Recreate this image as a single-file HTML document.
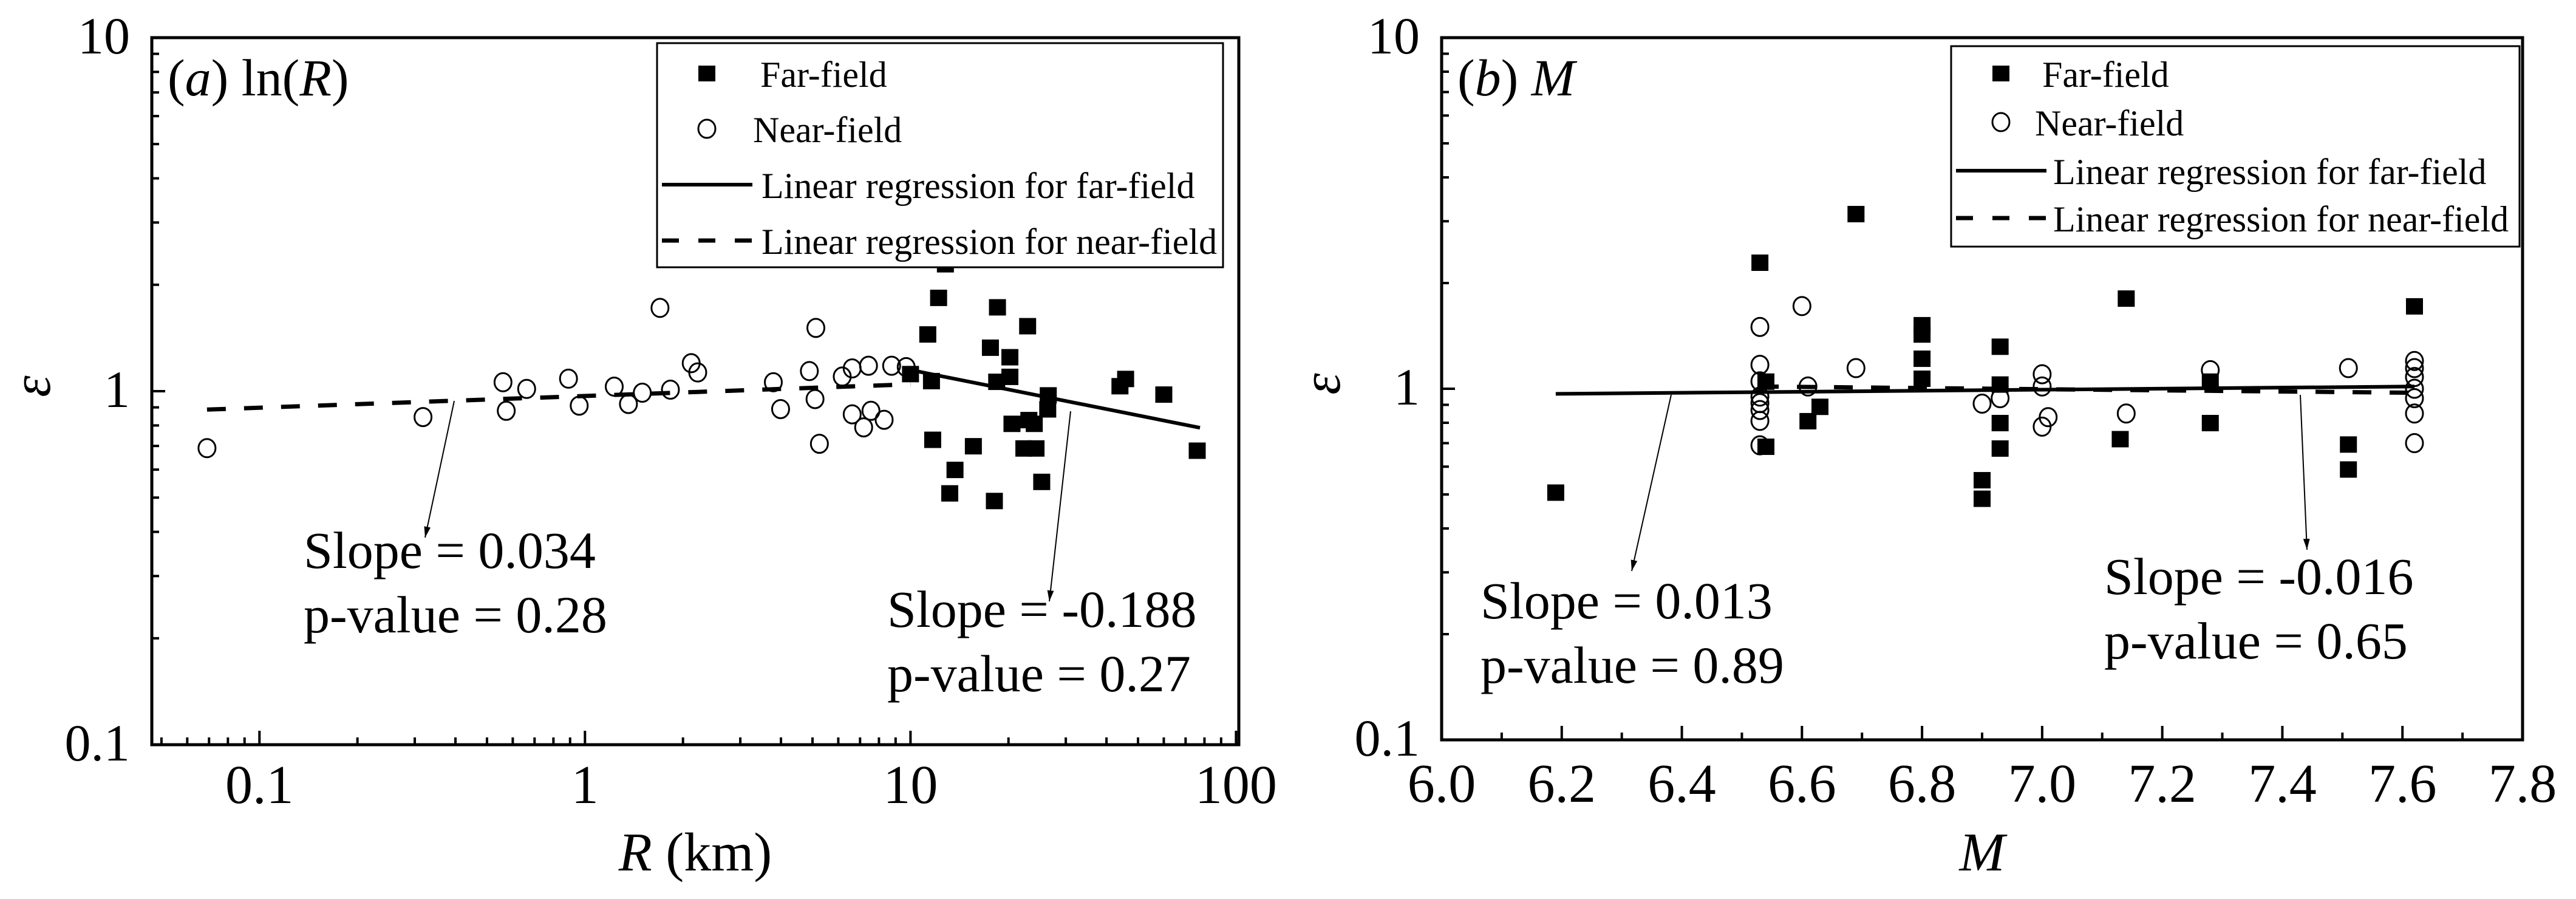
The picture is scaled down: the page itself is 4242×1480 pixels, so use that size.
<!DOCTYPE html>
<html><head><meta charset="utf-8"><style>
html,body{margin:0;padding:0;background:#fff;}
svg{display:block;}
svg text{font-family:"Liberation Serif","Times New Roman",serif;}
</style></head><body>
<svg id="chart" width="4242" height="1480" viewBox="0 0 4242 1480" xmlns="http://www.w3.org/2000/svg" font-family="Liberation Serif, Times New Roman, serif">
<defs><marker id="ah" viewBox="0 0 10 10" refX="10" refY="5" markerWidth="18" markerHeight="18" markerUnits="userSpaceOnUse" orient="auto"><path d="M0,2 L10,5 L0,8 z" fill="#000"/></marker></defs>
</svg>
<script>
// ---- Panel (a): epsilon vs R ----
const aFarR   = [10.0,11.3,11.6,12.2,12.8,11.7,13.7,13.2,15.6,17.6,18.5,18.1,18.4,20.2,20.2,20.5,22.9,22.3,23.1,24.0,24.3,25.3,26.5,26.4,44,45.8,60,76];
const aFarEps = [1.12,1.45,1.07,1.84,2.29,0.73,0.60,0.515,0.70,1.33,1.73,0.49,1.065,1.25,1.10,0.81,1.53,0.69,0.83,0.81,0.69,0.555,0.975,0.89,1.035,1.085,0.98,0.68];
const aNearR   = [0.069,0.318,0.56,0.573,0.662,0.89,0.96,1.23,1.36,1.50,1.70,1.83,2.12,2.22,3.79,3.99,4.89,5.09,5.12,5.25,6.17,6.62,6.62,7.18,7.43,7.56,8.3,8.75,9.7];
const aNearEps = [0.69,0.845,1.06,0.88,1.015,1.085,0.91,1.03,0.92,0.99,1.72,1.01,1.20,1.13,1.06,0.89,1.14,0.95,1.51,0.71,1.10,0.86,1.16,0.79,1.18,0.88,0.83,1.18,1.17];
const aFitFarX = [10, 77.5];   const aFitFarY = [1.148, 0.788];
const aFitNearX = [0.069, 10]; const aFitNearY = [0.887, 1.046];
const aXTicks = [0.1, 1, 10, 100];
const aXTickLabels = ["0.1","1","10","100"];
// ---- Panel (b): epsilon vs M ----
const bFarM   = [6.19,6.53,6.54,6.54,6.61,6.63,6.69,6.80,6.80,6.80,6.80,6.90,6.90,6.93,6.93,6.93,6.93,7.13,7.14,7.28,7.28,7.51,7.51,7.62];
const bFarEps = [0.507,2.29,1.05,0.685,0.81,0.89,3.15,1.52,1.43,1.22,1.07,0.55,0.487,1.32,1.03,0.80,0.677,0.72,1.81,1.05,0.80,0.695,0.59,1.72];
const bNearM   = [6.53,6.53,6.53,6.53,6.53,6.53,6.53,6.53,6.60,6.61,6.69,6.90,6.93,7.00,7.00,7.00,7.01,7.14,7.28,7.51,7.62,7.62,7.62,7.62,7.62,7.62,7.62];
const bNearEps = [1.50,1.17,1.05,0.95,0.91,0.87,0.81,0.69,1.72,1.015,1.145,0.907,0.94,1.10,1.015,0.78,0.83,0.85,1.13,1.145,1.20,1.145,1.08,1.00,0.94,0.85,0.70];
const bFitFarX = [6.19, 7.62];  const bFitFarY = [0.967, 1.015];
const bFitNearX = [6.53, 7.62]; const bFitNearY = [1.015, 0.974];
const bXTicks = [6.0,6.2,6.4,6.6,6.8,7.0,7.2,7.4,7.6,7.8];
const bXTickLabels = ["6.0","6.2","6.4","6.6","6.8","7.0","7.2","7.4","7.6","7.8"];
const yTicks = [0.1, 1, 10];
const yTickLabels = ["0.1","1","10"];

const FONT = '"Liberation Serif","Times New Roman",serif';
const svg = document.getElementById('chart');
const NS = 'http://www.w3.org/2000/svg';
function mk(tag, attrs, parent){ const e=document.createElementNS(NS,tag); for(const k in attrs) e.setAttribute(k,attrs[k]); if(tag==='text') e.setAttribute('font-family',FONT); (parent||svg).appendChild(e); return e; }

function panel(p){
  const g = mk('g',{});
  
  
  const L=p.L,R=p.R,T=p.T,B=p.B;
  const X = p.xs, Y = v => B - (Math.log10(v)+1)/2*(B-T);
  for(let d=-1; d<1; d++){
    for(let m=2;m<=9;m++){
      const v = m*Math.pow(10,d); const y=Y(v);
      const t = mk('line',{x1:L,x2:L+12,y1:y,y2:y,stroke:'#000','stroke-width':4},g);
      
      
    }
  }
  yTicks.forEach((v,i)=>{
    const y=Y(v);
    const t=mk('line',{x1:L,x2:L+22,y1:y,y2:y,stroke:'#000','stroke-width':4},g);
    
    
    const tx=mk('text',{x:L-36,y:y+26,'font-size':86,'text-anchor':'end'},g);
    tx.textContent=yTickLabels[i];
    
    
  });
  p.minorX.forEach(v=>{
    const x=X(v);
    const t=mk('line',{x1:x,x2:x,y1:B,y2:B-12,stroke:'#000','stroke-width':4},g);
    
    
  });
  p.xt.forEach((v,i)=>{
    const x=X(v);
    const t=mk('line',{x1:x,x2:x,y1:B,y2:B-23,stroke:'#000','stroke-width':4},g);
    
    
    const tx=mk('text',{x:x,y:B+p.xlo,'font-size':90,'text-anchor':'middle'},g);
    tx.textContent=p.xtl[i];
    
    
  });
  const lf=mk('line',{x1:X(p.ffx[0]),y1:Y(p.ffy[0]),x2:X(p.ffx[1]),y2:Y(p.ffy[1]),stroke:'#000','stroke-width':6},g);
  
  
  const ln=mk('line',{x1:X(p.nfx[0]),y1:Y(p.nfy[0]),x2:X(p.nfx[1]),y2:Y(p.nfy[1]),stroke:'#000','stroke-width':7,'stroke-dasharray':'31 30'},g);
  
  
  p.fx.forEach((v,i)=>{
    const r=mk('rect',{x:X(v)-14,y:Y(p.fy[i])-13,width:28,height:27,fill:'#000'},g);
    
    
  });
  p.nx.forEach((v,i)=>{
    const c=mk('ellipse',{cx:X(v),cy:Y(p.ny[i]),rx:14,ry:15,fill:'none',stroke:'#000','stroke-width':3},g);
    
    
  });
  const lg=mk('g',{},g);
  
  
  const lx=p.lg.x, ly=p.lg.y;
  mk('rect',{x:lx,y:ly,width:p.lg.w,height:p.lg.h,fill:'#fff',stroke:'#000','stroke-width':3},lg);
  const rows=p.lg.rows;
  const e1=mk('rect',{x:lx+68,y:ly+rows[0]-13,width:28,height:26,fill:'#000'},lg);
   
  const e2=mk('ellipse',{cx:lx+82,cy:ly+rows[1],rx:14,ry:15,fill:'none',stroke:'#000','stroke-width':3},lg);
   
  const e3=mk('line',{x1:lx+8,x2:lx+157,y1:ly+rows[2],y2:ly+rows[2],stroke:'#000','stroke-width':6},lg);
   
  const e4=mk('line',{x1:lx+8,x2:lx+157,y1:ly+rows[3],y2:ly+rows[3],stroke:'#000','stroke-width':7,'stroke-dasharray':'28 32'},lg);
   
  const texts=["Far-field","Near-field","Linear regression for far-field","Linear regression for near-field"];
  texts.forEach((s,i)=>{
    const t=mk('text',{x:lx+p.lg.tx[i],y:ly+rows[i]+22,'font-size':60},lg);
    t.textContent=s;
    
    
  });
  const f=mk('rect',{x:L,y:T,width:R-L,height:B-T,fill:'none',stroke:'#000','stroke-width':5},g);
  
  
  p.ann.forEach(a=>{
    const ar=mk('line',{x1:a.x1,y1:a.y1,x2:a.x2,y2:a.y2,stroke:'#000','stroke-width':2,'marker-end':'url(#ah)'},g);
    
    
    const t1=mk('text',{x:a.tx,y:a.ty,'font-size':86},g);
    t1.textContent=a.s1;
    
    
    const t2=mk('text',{x:a.tx,y:a.ty+106,'font-size':86},g);
    t2.textContent=a.s2;
    
    
  });
  const pl=mk('text',{x:L+26,y:T+95,'font-size':86},g);
  pl.innerHTML=p.label;
  
  
  const xt=mk('text',{x:(L+R)/2,y:1433,'font-size':90,'text-anchor':'middle'},g);
  xt.innerHTML=p.xtitle;
  
  
  const yt=mk('text',{x:0,y:0,'font-size':90,'font-style':'italic','text-anchor':'middle',transform:`translate(${L-168},${(T+B)/2-8}) rotate(-90)`},g);
  yt.textContent='ε';
  
  
}

(function(){
  const L=250,R=2040,T=62,B=1226;
  const lmin=Math.log10(0.0467), lmax=Math.log10(102);
  const xs=v=>L+(Math.log10(v)-lmin)/(lmax-lmin)*(R-L);
  const minor=[];
  [0.01,0.1,1,10].forEach(d=>{for(let m=2;m<=9;m++){const v=m*d; if(v>0.0467&&v<102) minor.push(v);}});
  panel({id:'a',L,R,T,B,xs,xlo:96,minorX:minor,xt:aXTicks,xtl:aXTickLabels,
    ffx:aFitFarX,ffy:aFitFarY,nfx:aFitNearX,nfy:aFitNearY,
    fx:aFarR,fy:aFarEps,nx:aNearR,ny:aNearEps,
    lg:{x:1082,y:71,w:932,h:369,rows:[50,141,233,325],tx:[170,158,172,172]},
    ann:[{x1:748,y1:660,x2:700,y2:885,tx:500,ty:935,s1:'Slope = 0.034',s2:'p-value = 0.28'},
         {x1:1763,y1:677,x2:1728,y2:990,tx:1461,ty:1032,s1:'Slope = -0.188',s2:'p-value = 0.27'}],
    label:'(<tspan font-style="italic">a</tspan>) ln(<tspan font-style="italic">R</tspan>)',
    xtitle:'<tspan font-style="italic">R</tspan> (km)'});
})();
(function(){
  const L=2374,R=4154,T=62,B=1218;
  const xs=v=>L+(v-6.0)/1.8*(R-L);
  const minor=[];
  for(let i=1;i<18;i+=2) minor.push(6.0+i*0.1);
  panel({id:'b',L,R,T,B,xs,xlo:102,minorX:minor,xt:bXTicks,xtl:bXTickLabels,
    ffx:bFitFarX,ffy:bFitFarY,nfx:bFitNearX,nfy:bFitNearY,
    fx:bFarM,fy:bFarEps,nx:bNearM,ny:bNearEps,
    lg:{x:3213,y:76,w:936,h:330,rows:[45,125,205,283],tx:[150,138,168,168]},
    ann:[{x1:2752,y1:650,x2:2687,y2:940,tx:2438,ty:1018,s1:'Slope = 0.013',s2:'p-value = 0.89'},
         {x1:3788,y1:650,x2:3799,y2:905,tx:3465,ty:978,s1:'Slope = -0.016',s2:'p-value = 0.65'}],
    label:'(<tspan font-style="italic">b</tspan>) <tspan font-style="italic">M</tspan>',
    xtitle:'<tspan font-style="italic">M</tspan>'});
})();
</script>
</body></html>
